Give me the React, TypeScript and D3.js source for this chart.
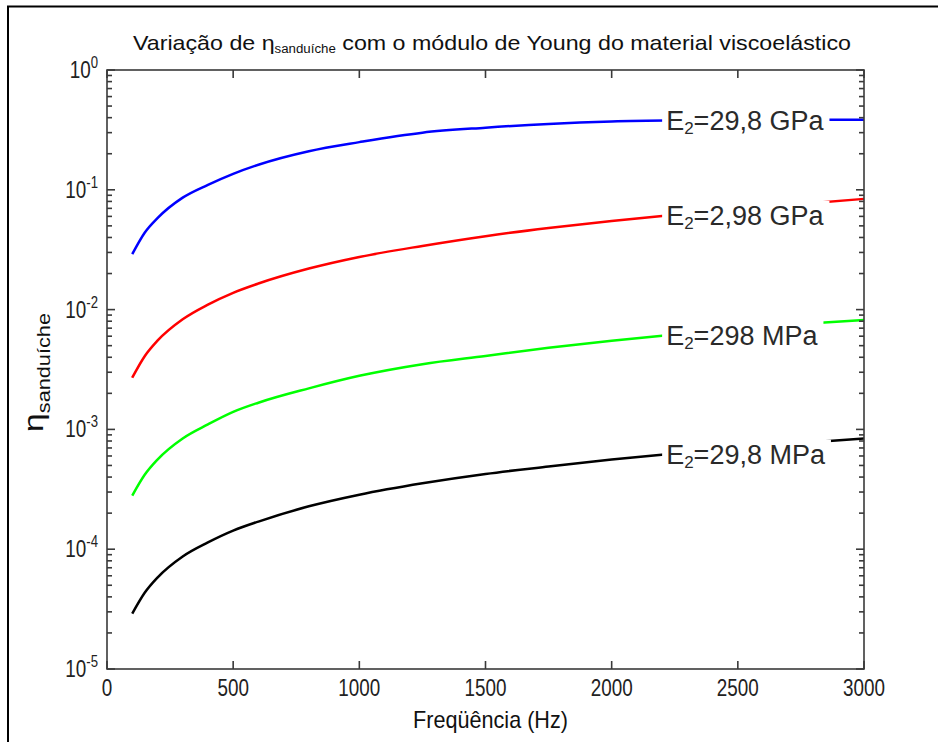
import React, { useEffect, useRef } from 'react'
import * as d3 from 'd3'

// frequencies (Hz) where the curves were read
const freqs = [100, 150, 200, 300, 400, 500, 600, 800, 1000, 1250, 1500, 1750, 2000, 2250, 2500, 2750, 3000]

// loss factor for each viscoelastic modulus
const eta298GPa = [0.029, 0.044, 0.058, 0.086, 0.11, 0.136, 0.162, 0.21, 0.25, 0.3, 0.33, 0.355, 0.372, 0.38, 0.383, 0.385, 0.385]
const eta298GPa2 = [0.0027, 0.0041, 0.0055, 0.0083, 0.011, 0.0138, 0.0165, 0.022, 0.0275, 0.034, 0.041, 0.048, 0.055, 0.062, 0.069, 0.076, 0.084]
const eta298MPa = [0.00028, 0.00042, 0.00056, 0.00084, 0.0011, 0.0014, 0.00167, 0.0022, 0.0028, 0.0035, 0.0041, 0.0048, 0.0055, 0.0062, 0.0069, 0.0076, 0.0082]
const eta298MPa2 = [0.000029, 0.0000435, 0.000058, 0.000087, 0.000114, 0.000143, 0.00017, 0.000228, 0.000285, 0.000355, 0.000425, 0.00049, 0.00056, 0.00063, 0.0007, 0.00077, 0.00084]

const seriesValues = [eta298GPa, eta298GPa2, eta298MPa, eta298MPa2]
const seriesColors = ['#0000ff', '#ff0000', '#00ff00', '#000000']
const seriesLabels = ['=29,8 GPa', '=2,98 GPa', '=298 MPa', '=29,8 MPa']
const labelFreq = 2200

const xTicks = [0, 500, 1000, 1500, 2000, 2500, 3000]
const yExponents = [0, -1, -2, -3, -4, -5]

const App = () => {
  const ref = useRef<SVGSVGElement>(null)

  useEffect(() => {
    const svg = d3.select(ref.current)
    svg.selectAll('*').remove()

    const left = 107, right = 864, top = 70, bottom = 669
    const x = d3.scaleLinear().domain([0, 3000]).range([left, right])
    const y = d3.scaleLog().domain([1e-5, 1]).range([bottom, top])
    const font = 'Arial, "Liberation Sans", sans-serif'
    const sx = 0.82
    const axisColor = '#3a3a3a'

    svg.append('rect').attr('width', 938).attr('height', 742).attr('fill', '#fff')
    // outer frame of the figure
    svg.append('path').attr('d', 'M8,742V6.5H938').attr('fill', 'none').attr('stroke', '#000').attr('stroke-width', 2)

    // curves
    const line = d3.line<number>()
      .x((_, i) => x(freqs[i]))
      .y((d) => y(d))
      .curve(d3.curveMonotoneX)

    seriesValues.forEach((vals, i) => {
      svg.append('path')
        .attr('d', line(vals))
        .attr('fill', 'none')
        .attr('stroke', seriesColors[i])
        .attr('stroke-width', 2.5)
    })

    // ticks pointing inwards on all four sides
    const minor: number[] = []
    for (let e = -5; e < 0; e++) for (let m = 2; m <= 9; m++) minor.push(m * Math.pow(10, e))
    const major = yExponents.map((e) => Math.pow(10, e))
    const yTicks = [...major.map((v) => ({ v, len: 8 })), ...minor.map((v) => ({ v, len: 5 }))]

    const ticks = svg.append('g').attr('stroke', axisColor).attr('stroke-width', 1.6)
    ticks.selectAll('line.yl').data(yTicks).join('line').attr('class', 'yl')
      .attr('x1', left).attr('x2', (d) => left + d.len)
      .attr('y1', (d) => y(d.v)).attr('y2', (d) => y(d.v))
    ticks.selectAll('line.yr').data(yTicks).join('line').attr('class', 'yr')
      .attr('x1', right).attr('x2', (d) => right - d.len)
      .attr('y1', (d) => y(d.v)).attr('y2', (d) => y(d.v))
    ticks.selectAll('line.xb').data(xTicks).join('line').attr('class', 'xb')
      .attr('x1', (d) => x(d)).attr('x2', (d) => x(d))
      .attr('y1', bottom).attr('y2', bottom - 8)
    ticks.selectAll('line.xt').data(xTicks).join('line').attr('class', 'xt')
      .attr('x1', (d) => x(d)).attr('x2', (d) => x(d))
      .attr('y1', top).attr('y2', top + 8)

    svg.append('rect')
      .attr('x', left).attr('y', top).attr('width', right - left).attr('height', bottom - top)
      .attr('fill', 'none').attr('stroke', axisColor).attr('stroke-width', 1.6)

    // x tick labels
    xTicks.forEach((t) => {
      svg.append('text')
        .attr('transform', `translate(${x(t)},696) scale(${sx},1)`)
        .attr('text-anchor', 'middle')
        .attr('font-family', font).attr('font-size', 23).attr('fill', '#222')
        .text(t)
    })

    // y tick labels 10^e
    yExponents.forEach((e) => {
      const t = svg.append('text')
        .attr('transform', `translate(98,${y(Math.pow(10, e)) + 8}) scale(${sx},1)`)
        .attr('text-anchor', 'end')
        .attr('font-family', font).attr('font-size', 23).attr('fill', '#222')
      t.append('tspan').text('10')
      t.append('tspan').attr('font-size', 16).attr('dy', -10).text(e)
    })

    // title
    const title = svg.append('text')
      .attr('x', 133).attr('y', 50)
      .attr('font-family', font).attr('font-size', 21).attr('fill', '#111')
      .attr('textLength', 718).attr('lengthAdjust', 'spacingAndGlyphs')
    title.append('tspan').text('Variação de η')
    title.append('tspan').attr('font-size', 12).attr('dy', 3).text('sanduíche')
    title.append('tspan').attr('dy', -3).text(' com o módulo de Young do material viscoelástico')

    // x label
    svg.append('text')
      .attr('x', 413).attr('y', 728)
      .attr('font-family', font).attr('font-size', 24).attr('fill', '#111')
      .attr('textLength', 155).attr('lengthAdjust', 'spacingAndGlyphs')
      .text('Freqüência (Hz)')

    // y label
    const yl = svg.append('text')
      .attr('transform', 'translate(43,432) rotate(-90)')
      .attr('font-family', font).attr('font-size', 28).attr('fill', '#111')
      .attr('textLength', 119).attr('lengthAdjust', 'spacingAndGlyphs')
    yl.append('tspan').text('η')
    yl.append('tspan').attr('font-size', 18).attr('dy', 7).text('sanduíche')

    // curve labels on a white box
    seriesValues.forEach((vals, i) => {
      const cx = x(labelFreq)
      const cy = y(d3.interpolateNumber(vals[12], vals[13])((labelFreq - freqs[12]) / (freqs[13] - freqs[12])))
      const g = svg.append('g')
      const bg = g.append('rect').attr('fill', '#fff')
      const t = g.append('text')
        .attr('x', cx + 4).attr('y', cy + 9)
        .attr('font-family', font).attr('font-size', 27).attr('fill', '#2a2a2a')
      t.append('tspan').text('E')
      t.append('tspan').attr('font-size', 17).attr('dy', 4).text('2')
      t.append('tspan').attr('dy', -4).text(seriesLabels[i])
      const bb = (t.node() as SVGTextElement).getBBox()
      bg.attr('x', cx).attr('y', bb.y).attr('width', bb.width + 9).attr('height', bb.height)
    })
  }, [])

  return (
    <svg
      ref={ref}
      width={938}
      height={742}
      style={{ position: 'absolute', left: 0, top: 0 }}
    />
  )
}

export default App
